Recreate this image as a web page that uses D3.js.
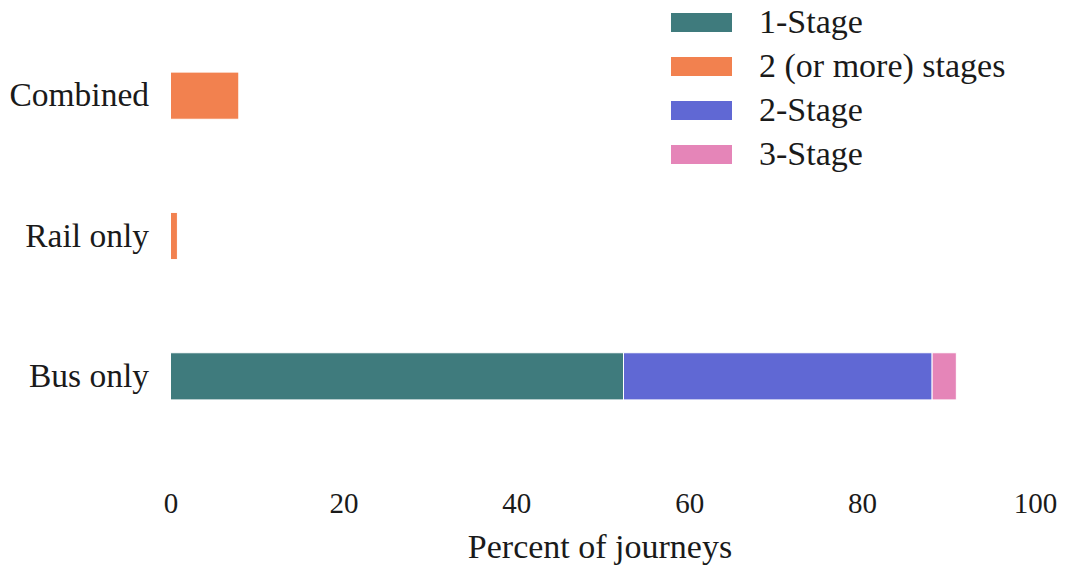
<!DOCTYPE html>
<html>
<head>
<meta charset="utf-8">
<script src="https://cdn.jsdelivr.net/npm/d3@7"></script>
<style>
  html, body { margin: 0; padding: 0; background: #ffffff; }
  svg { display: block; }
  text { font-family: "Liberation Serif", "DejaVu Serif", serif; fill: #1a1a1a; }
</style>
</head>
<body>
<svg id="chart" width="1065" height="570"></svg>
<script>
// ---- data ----
const categories = ["Combined", "Rail only", "Bus only"];
const seriesNames = ["1-Stage", "2 (or more) stages", "2-Stage", "3-Stage"];
const oneStage   = [0, 0, 52.4];
const twoOrMore  = [7.9, 0.8, 0];
const twoStage   = [0, 0, 35.7];
const threeStage = [0, 0, 2.8];
const xTicks = [0, 20, 40, 60, 80, 100];
const xTitle = "Percent of journeys";
const seriesColors = ["#3f7b7d", "#f2814f", "#6068d4", "#e585b8"];

// ---- build table ----
const seriesValues = [oneStage, twoOrMore, twoStage, threeStage];
const table = categories.map((c, i) => {
  const row = { category: c };
  seriesNames.forEach((s, j) => { row[s] = seriesValues[j][i]; });
  return row;
});
const stacked = d3.stack().keys(seriesNames)(table);

const svg = d3.select("#chart");

const x = d3.scaleLinear().domain([0, 100]).range([170.5, 1035]);
const y = d3.scaleBand().domain(categories).range([25.5, 446.5])
  .paddingInner(0.664).paddingOuter(0.332);
const color = d3.scaleOrdinal().domain(seriesNames).range(seriesColors);

// bars
svg.append("g").selectAll("g").data(stacked).join("g")
  .attr("fill", d => color(d.key))
  .selectAll("rect").data(d => d.filter(p => p[1] - p[0] > 0)).join("rect")
  .attr("x", d => x(d[0]))
  .attr("y", d => y(d.data.category))
  .attr("width", d => x(d[1]) - x(d[0]))
  .attr("height", y.bandwidth())
  .attr("stroke", "#ffffff")
  .attr("stroke-width", 1);

// y labels
svg.append("g").selectAll("text").data(categories).join("text")
  .attr("x", 149)
  .attr("y", d => y(d) + y.bandwidth() / 2)
  .attr("dy", "0.32em")
  .attr("text-anchor", "end")
  .attr("font-size", 33.5)
  .text(d => d);

// x axis
const xAxis = svg.append("g").attr("transform", "translate(0,503)")
  .call(d3.axisBottom(x).tickValues(xTicks).tickSize(0).tickPadding(0).tickFormat(d3.format("d")));
xAxis.select(".domain").remove();
xAxis.selectAll("text")
  .attr("y", 0).attr("dy", "0.35em")
  .attr("font-size", 29)
  .attr("font-family", "'Liberation Serif', serif")
  .attr("fill", "#1a1a1a");

svg.append("text")
  .attr("x", 600).attr("y", 558)
  .attr("text-anchor", "middle")
  .attr("font-size", 34)
  .text(xTitle);

// legend
const legend = svg.append("g").attr("transform", "translate(671,13)");
const items = legend.selectAll("g").data(seriesNames).join("g")
  .attr("transform", (d, i) => `translate(0,${i * 44})`);
items.append("rect")
  .attr("width", 61).attr("height", 19)
  .attr("fill", d => color(d));
items.append("text")
  .attr("x", 88).attr("y", 20)
  .attr("font-size", 34)
  .text(d => d);
</script>
</body>
</html>
